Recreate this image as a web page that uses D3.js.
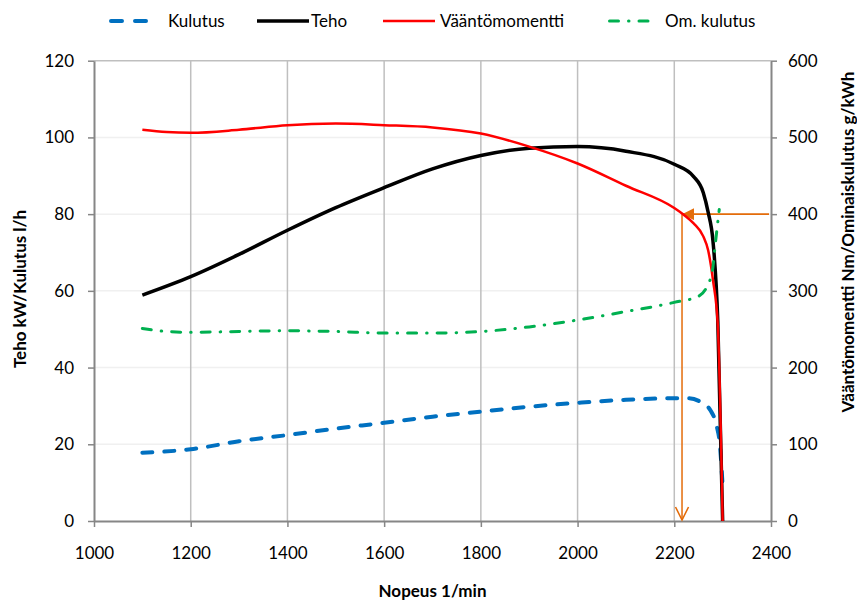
<!DOCTYPE html>
<html lang="fi">
<head>
<meta charset="utf-8">
<title>Moottorin käyrät</title>
<script src="https://cdn.jsdelivr.net/npm/d3@7"></script>
<style>
  html, body { margin: 0; padding: 0; background: #fff; }
  svg { display: block; font-family: Lato, "Open Sans", sans-serif; }
</style>
</head>
<body>
<svg id="chart" width="857" height="601"></svg>
<script>
// akselien jaot
const xTicks = [1000, 1200, 1400, 1600, 1800, 2000, 2200, 2400];
const leftTicks = [0, 20, 40, 60, 80, 100, 120];
const rightTicks = [0, 100, 200, 300, 400, 500, 600];

// Kulutus l/h (vasen akseli)
const kulutusRpm = [1100, 1200, 1300, 1400, 1500, 1600, 1700, 1800, 1900, 2000, 2100, 2200, 2230, 2255, 2275, 2288, 2294, 2300];
const kulutus = [17.8, 18.7, 20.8, 22.4, 24.1, 25.6, 27.2, 28.5, 29.8, 30.8, 31.6, 32.0, 32.0, 31.0, 28.8, 24.6, 20.3, 9];

// Teho kW (vasen akseli)
const tehoRpm = [1100, 1200, 1300, 1400, 1500, 1600, 1700, 1800, 1900, 2000, 2100, 2200, 2240, 2260, 2270, 2280, 2290, 2300];
const teho = [58.9, 63.7, 69.5, 75.8, 81.7, 86.9, 91.8, 95.3, 97.2, 97.6, 96.4, 93.0, 89.8, 85.6, 80.5, 73.0, 52.0, 0];

// Vääntömomentti Nm (oikea akseli)
const vaantoRpm = [1100, 1150, 1200, 1300, 1400, 1500, 1600, 1700, 1800, 1900, 2000, 2100, 2200, 2220, 2240, 2260, 2270, 2280, 2290, 2300];
const vaanto = [510, 507, 506, 510, 516, 518, 516, 513, 505, 488, 466, 437, 408, 399, 388, 371, 353, 314, 255, 0];

// Ominaiskulutus g/kWh (oikea akseli)
const omKulutusRpm = [1100, 1150, 1200, 1300, 1400, 1500, 1600, 1700, 1800, 1900, 2000, 2100, 2200, 2250, 2267, 2279, 2285, 2293];
const omKulutus = [251, 247, 246, 247, 248, 247, 245, 245, 247, 253, 262, 273, 285, 293, 305, 327, 362, 406];

// nuolimerkintä: 400 Nm kohdassa n. 2216 1/min
const markerRpm = 2216;
const markerTorque = 400;

const svg = d3.select('#chart');

const x = d3.scaleLinear().domain([1000, 2400]).range([94, 771]);
const yLeft = d3.scaleLinear().domain([0, 120]).range([521, 60.7]);
const yRight = d3.scaleLinear().domain([0, 600]).range([521, 60.7]);

const orange = '#E46C0A';

// sarjojen tyylit
const series = [
  { name: 'Kulutus', rpm: kulutusRpm, values: kulutus, y: yLeft, color: '#0070C0', width: 4, dash: '10,12' },
  { name: 'Teho', rpm: tehoRpm, values: teho, y: yLeft, color: '#000000', width: 3.5, dash: null },
  { name: 'Vääntömomentti', rpm: vaantoRpm, values: vaanto, y: yRight, color: '#FF0000', width: 2.5, dash: null },
  { name: 'Om. kulutus', rpm: omKulutusRpm, values: omKulutus, y: yRight, color: '#00B050', width: 3, dash: '9,10,0.5,10' }
];

// nuolenkärjet
const defs = svg.append('defs');
defs.append('marker')
  .attr('id', 'arrow-filled')
  .attr('viewBox', '0 -5 10 10')
  .attr('refX', 10)
  .attr('refY', 0)
  .attr('markerUnits', 'userSpaceOnUse')
  .attr('markerWidth', 12)
  .attr('markerHeight', 12)
  .attr('orient', 'auto')
  .append('path')
  .attr('d', 'M0,-5L10,0L0,5Z')
  .attr('fill', orange);

defs.append('marker')
  .attr('id', 'arrow-open')
  .attr('viewBox', '0 -5 10 10')
  .attr('refX', 10)
  .attr('refY', 0)
  .attr('markerUnits', 'userSpaceOnUse')
  .attr('markerWidth', 13)
  .attr('markerHeight', 14)
  .attr('orient', 'auto')
  .style('overflow', 'visible')
  .append('path')
  .attr('d', 'M0,-5L10,0L0,5')
  .attr('fill', 'none')
  .attr('stroke', orange)
  .attr('stroke-width', 1.2);

// ruudukko
const grid = svg.append('g');
grid.selectAll('line.h')
  .data(leftTicks.filter(d => d > 0))
  .join('line')
  .attr('x1', x(1000)).attr('x2', x(2400))
  .attr('y1', d => yLeft(d)).attr('y2', d => yLeft(d))
  .attr('stroke', d => d === 120 ? '#BFBFBF' : '#F0F0F0')
  .attr('stroke-width', 1.5);

grid.selectAll('line.v')
  .data(xTicks.slice(1, -1))
  .join('line')
  .attr('x1', d => x(d)).attr('x2', d => x(d))
  .attr('y1', yLeft(120)).attr('y2', yLeft(0))
  .attr('stroke', '#BFBFBF')
  .attr('stroke-width', 1.5);

// akselit
const styleAxis = g => {
  g.select('.domain').attr('stroke', '#868686').attr('stroke-width', 2);
  g.selectAll('.tick line').attr('stroke', '#868686').attr('stroke-width', 1.5);
  g.selectAll('.tick text').attr('fill', '#000').style('font-size', '17px');
};

svg.append('g')
  .attr('transform', `translate(0,${yLeft(0)})`)
  .call(d3.axisBottom(x).tickValues(xTicks).tickFormat(d3.format('d')).tickSize(6).tickSizeOuter(0).tickPadding(20))
  .call(styleAxis);

svg.append('g')
  .attr('transform', `translate(${x(1000)},0)`)
  .call(d3.axisLeft(yLeft).tickValues(leftTicks).tickSize(6).tickSizeOuter(0).tickPadding(14))
  .call(styleAxis);

svg.append('g')
  .attr('transform', `translate(${x(2400)},0)`)
  .call(d3.axisRight(yRight).tickValues(rightTicks).tickSize(6).tickSizeOuter(0).tickPadding(11))
  .call(styleAxis);

svg.selectAll('.tick text').attr('font-family', 'Lato, sans-serif');

// oranssit nuolet
svg.append('line')
  .attr('x1', x(2400) - 2).attr('x2', x(markerRpm))
  .attr('y1', yRight(markerTorque)).attr('y2', yRight(markerTorque))
  .attr('stroke', orange)
  .attr('stroke-width', 1.8)
  .attr('marker-end', 'url(#arrow-filled)');

svg.append('line')
  .attr('x1', x(markerRpm)).attr('x2', x(markerRpm))
  .attr('y1', yRight(markerTorque)).attr('y2', yRight(0) - 1)
  .attr('stroke', orange)
  .attr('stroke-width', 1.5)
  .attr('marker-end', 'url(#arrow-open)');

// käyrät
series.forEach(s => {
  const line = d3.line()
    .x(d => x(d[0]))
    .y(d => s.y(d[1]))
    .curve(d3.curveMonotoneX);

  svg.append('path')
    .datum(d3.zip(s.rpm, s.values))
    .attr('d', line)
    .attr('fill', 'none')
    .attr('stroke', s.color)
    .attr('stroke-width', s.width)
    .attr('stroke-linecap', s.dash ? 'round' : 'butt')
    .attr('stroke-linejoin', 'round')
    .attr('stroke-dasharray', s.dash);
});

// selite
const legendX = [111, 257, 383, 609.5];
const legendText = [168, 311, 440, 665];
const legendLen = [39, 52, 52, 40.5];
const legend = svg.append('g').attr('transform', 'translate(0,21)');
series.forEach((s, i) => {
  legend.append('line')
    .attr('x1', legendX[i]).attr('x2', legendX[i] + legendLen[i])
    .attr('y1', 0).attr('y2', 0)
    .attr('stroke', s.color)
    .attr('stroke-width', s.width)
    .attr('stroke-linecap', s.dash ? 'round' : 'butt')
    .attr('stroke-dasharray', i === 0 ? '11,13' : s.dash);
  legend.append('text')
    .attr('x', legendText[i])
    .attr('y', 0)
    .attr('dy', '0.35em')
    .style('font-size', '17px')
    .text(s.name);
});

// akselien otsikot
const axisTitle = (tx, ty, rot, label) => svg.append('text')
  .attr('transform', `translate(${tx},${ty}) rotate(${rot})`)
  .attr('dy', '0.35em')
  .attr('text-anchor', 'middle')
  .style('font-size', '17px')
  .style('font-weight', 'bold')
  .text(label);

axisTitle((x(1000) + x(2400)) / 2, 591, 0, 'Nopeus 1/min');
axisTitle(20, 289, -90, 'Teho kW/Kulutus l/h');
axisTitle(848, 242, -90, 'Vääntömomentti Nm/Ominaiskulutus g/kWh');
</script>
</body>
</html>
